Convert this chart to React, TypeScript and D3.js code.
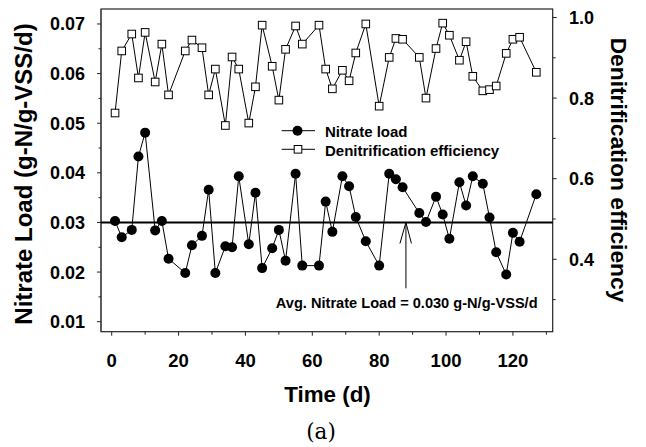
import React from "react";
import * as d3 from "d3";

const days = [1, 3, 6, 8, 10, 13, 15, 17, 22, 24, 27, 29, 31, 34, 36, 38, 41, 43, 45, 48, 50, 52, 55, 57, 62, 64, 66, 69, 71, 73, 76, 80, 83, 85, 87, 92, 94, 97, 99, 101, 104, 106, 108, 111, 113, 115, 118, 120, 122, 127];
const nitrateLoad = [0.0303, 0.027, 0.0285, 0.0433, 0.0481, 0.0284, 0.0303, 0.0227, 0.0198, 0.0254, 0.0273, 0.0366, 0.0198, 0.0252, 0.025, 0.0393, 0.0256, 0.036, 0.0208, 0.0248, 0.0285, 0.0223, 0.0398, 0.0213, 0.0213, 0.0342, 0.0281, 0.0393, 0.0373, 0.0311, 0.0262, 0.0213, 0.0398, 0.0387, 0.0371, 0.0319, 0.0301, 0.0352, 0.0316, 0.0267, 0.0381, 0.0334, 0.0393, 0.0378, 0.031, 0.024, 0.0195, 0.0279, 0.0261, 0.0357];
const efficiency = [0.763, 0.917, 0.959, 0.85, 0.963, 0.84, 0.934, 0.808, 0.917, 0.944, 0.925, 0.808, 0.872, 0.732, 0.902, 0.872, 0.738, 0.828, 0.981, 0.879, 0.795, 0.921, 0.979, 0.934, 0.981, 0.872, 0.823, 0.869, 0.843, 0.912, 0.984, 0.78, 0.901, 0.948, 0.946, 0.901, 0.8, 0.923, 0.986, 0.956, 0.894, 0.94, 0.854, 0.818, 0.821, 0.83, 0.911, 0.946, 0.951, 0.864];

const xMajor = [0, 20, 40, 60, 80, 100, 120];
const xMinor = [10, 30, 50, 70, 90, 110, 130];
const leftMajor = [0.01, 0.02, 0.03, 0.04, 0.05, 0.06, 0.07];
const leftMinor = [0.015, 0.025, 0.035, 0.045, 0.055, 0.065];
const rightMajor = [0.4, 0.6, 0.8, 1.0];
const rightMinor = [0.3, 0.5, 0.7, 0.9];
const avgLoad = 0.03;
const arrowDay = 88;

const W = 646;
const H = 447;
const L = 101, R = 552.7, T = 9, B = 331.7;
const FONT = "Arial, 'Liberation Sans', Helvetica, sans-serif";

export default function App() {
  const x = d3.scaleLinear().domain([-3.2, 131.9]).range([L, R]);
  const yL = d3.scaleLinear().domain([0.00798, 0.07302]).range([B, T]);
  const yR = d3.scaleLinear().domain([0.2203, 1.0211]).range([B, T]);

  const nitratePts = days.map((d, i) => [x(d), yL(nitrateLoad[i])] as [number, number]);
  const effPts = days.map((d, i) => [x(d), yR(efficiency[i])] as [number, number]);
  const line = d3.line();

  const ya = yL(avgLoad);
  const xa = x(arrowDay);
  const sq = 7.6;

  return (
    <svg width={W} height={H} style={{ position: "absolute", left: 0, top: 0, background: "#fff" }} fontFamily={FONT}>
      <rect x={0} y={0} width={W} height={H} fill="#fff" />
      {/* frame */}
      <rect x={L} y={T} width={R - L} height={B - T} fill="none" stroke="#222" strokeWidth={1.2} />
      <line x1={L} x2={L} y1={T} y2={B} stroke="#555" strokeWidth={1.6} />

      {/* x ticks */}
      {xMajor.map((t) => (
        <g key={"xm" + t}>
          <line x1={x(t)} x2={x(t)} y1={B} y2={B + 4} stroke="#222" />
          <text x={x(t)} y={367} textAnchor="middle" fontSize={18.5} fontWeight="bold">{t}</text>
        </g>
      ))}
      {xMinor.map((t) => (
        <line key={"xn" + t} x1={x(t)} x2={x(t)} y1={B} y2={B + 3} stroke="#222" />
      ))}

      {/* left ticks */}
      {leftMajor.map((t) => (
        <g key={"lm" + t}>
          <line x1={L - 4} x2={L} y1={yL(t)} y2={yL(t)} stroke="#222" />
          <text x={85} y={yL(t)} dy="0.36em" textAnchor="end" fontSize={18} fontWeight="bold">{t.toFixed(2)}</text>
        </g>
      ))}
      {leftMinor.map((t) => (
        <line key={"ln" + t} x1={L - 2.5} x2={L} y1={yL(t)} y2={yL(t)} stroke="#222" />
      ))}

      {/* right ticks */}
      {rightMajor.map((t) => (
        <g key={"rm" + t}>
          <line x1={R} x2={R + 4} y1={yR(t)} y2={yR(t)} stroke="#222" />
          <text x={569} y={yR(t)} dy="0.36em" textAnchor="start" fontSize={18} fontWeight="bold">{t.toFixed(1)}</text>
        </g>
      ))}
      {rightMinor.map((t) => (
        <line key={"rn" + t} x1={R} x2={R + 3} y1={yR(t)} y2={yR(t)} stroke="#222" />
      ))}

      {/* average line */}
      <line x1={L} x2={R} y1={ya} y2={ya} stroke="#000" strokeWidth={2} />

      {/* efficiency series */}
      <path d={line(effPts) || ""} fill="none" stroke="#000" strokeWidth={1} />
      {effPts.map(([px, py], i) => (
        <rect key={"e" + i} x={px - sq / 2} y={py - sq / 2} width={sq} height={sq} fill="#fff" stroke="#000" strokeWidth={1} />
      ))}

      {/* nitrate series */}
      <path d={line(nitratePts) || ""} fill="none" stroke="#000" strokeWidth={1} />
      {nitratePts.map(([px, py], i) => (
        <circle key={"n" + i} cx={px} cy={py} r={5} fill="#000" />
      ))}

      {/* arrow */}
      <line x1={xa} x2={xa} y1={ya} y2={288.3} stroke="#000" strokeWidth={1} />
      <polyline points={`${xa - 6},${ya + 21} ${xa},${ya} ${xa + 5.5},${ya + 21}`} fill="none" stroke="#000" strokeWidth={1} />
      <text x={406.7} y={308} textAnchor="middle" fontSize={14.6} fontWeight="bold">Avg. Nitrate Load = 0.030 g-N/g-VSS/d</text>

      {/* legend */}
      <line x1={281.7} x2={315} y1={130.7} y2={130.7} stroke="#000" />
      <circle cx={297.5} cy={130.7} r={5} fill="#000" />
      <text x={325} y={136.5} fontSize={15} fontWeight="bold">Nitrate load</text>
      <line x1={281.7} x2={315} y1={149.3} y2={149.3} stroke="#000" />
      <rect x={298 - sq / 2} y={149.3 - sq / 2} width={sq} height={sq} fill="#fff" stroke="#000" />
      <text x={325} y={155.5} fontSize={15} fontWeight="bold">Denitrification efficiency</text>

      {/* axis titles */}
      <text x={327.5} y={401.5} textAnchor="middle" fontSize={22.4} fontWeight="bold">Time (d)</text>
      <text transform="translate(32,174) rotate(-90)" textAnchor="middle" fontSize={24} fontWeight="bold">Nitrate Load (g-N/g-VSS/d)</text>
      <text transform="translate(611,170) rotate(90)" textAnchor="middle" fontSize={22.8} fontWeight="bold">Denitrification efficiency</text>

      {/* caption */}
      <text x={321} y={439} textAnchor="middle" fontSize={21.5} fontFamily="'DejaVu Serif', serif">(a)</text>
    </svg>
  );
}
